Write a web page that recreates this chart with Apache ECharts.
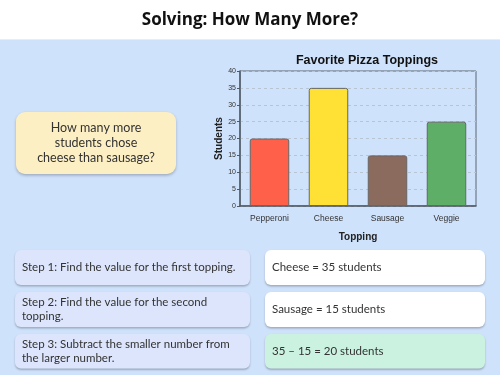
<!DOCTYPE html>
<html><head><meta charset="utf-8">
<script src="https://cdn.jsdelivr.net/npm/echarts@6/dist/echarts.min.js"></script>
<style>html,body{margin:0;padding:0;}#c{width:500px;height:375px;}</style>
</head><body><div id="c"></div>
<script>
var categories = ['Pepperoni', 'Cheese', 'Sausage', 'Veggie'];
var students = [20, 35, 15, 25];
var barColors = ['#ff6049', '#ffe135', '#8b6b5d', '#5fae68'];
var yTicks = [0, 5, 10, 15, 20, 25, 30, 35, 40];
var questionLines = ['How many more', 'students chose', 'cheese than sausage?'];
var stepTexts = [
  ['Step 1: Find the value for the first topping.'],
  ['Step 2: Find the value for the second', 'topping.'],
  ['Step 3: Subtract the smaller number from', 'the larger number.']
];
var answerTexts = ['Cheese = 35 students', 'Sausage = 15 students', '35 \u2013 15 = 20 students'];

var chart = echarts.init(document.getElementById('c'), null, {renderer: 'canvas'});
var bf = 'Lato, "Noto Sans", sans-serif';
var graphics = [];
graphics.push({type: 'rect', z: -10, shape: {x: 0, y: 0, width: 500, height: 39}, style: {fill: '#ffffff'}});
graphics.push({type: 'rect', z: -10, shape: {x: 0, y: 39, width: 500, height: 1}, style: {fill: '#e6edf5'}});
graphics.push({type: 'text', x: 250, y: 20, style: {text: 'Solving: How Many More?', font: 'bold 17px "Open Sans", Lato, sans-serif', fill: '#111', align: 'center', verticalAlign: 'middle'}});
// question box
graphics.push({type: 'rect', shape: {x: 16, y: 112, width: 160, height: 62, r: 9},
  style: {fill: '#fdefc4', shadowBlur: 3, shadowOffsetY: 1.5, shadowColor: 'rgba(0,0,0,0.25)'}});
questionLines.forEach(function (t, i) {
  graphics.push({type: 'text', x: 96, y: 128 + i * 15.2, style: {text: t, font: '12.5px ' + bf, fill: '#333', align: 'center', verticalAlign: 'middle'}});
});
var rows = [[250, 35], [292, 35], [334, 34.5]];
var ansFill = ['#ffffff', '#ffffff', '#cbf2e1'];
rows.forEach(function (r, i) {
  graphics.push({type: 'rect', shape: {x: 15, y: r[0], width: 235, height: r[1], r: 6},
    style: {fill: '#dce5fb', shadowBlur: 2, shadowOffsetY: 1.5, shadowColor: 'rgba(0,0,0,0.25)'}});
  graphics.push({type: 'rect', shape: {x: 265, y: r[0], width: 220, height: r[1], r: 6},
    style: {fill: ansFill[i], shadowBlur: 2, shadowOffsetY: 1.5, shadowColor: 'rgba(0,0,0,0.25)'}});
  var lines = stepTexts[i];
  var cy = r[0] + r[1] / 2;
  lines.forEach(function (t, j) {
    var y = lines.length === 1 ? cy : cy - 6.8 + j * 13.6;
    graphics.push({type: 'text', x: 22, y: y, style: {text: t, font: '11.5px ' + bf, fill: '#333', verticalAlign: 'middle'}});
  });
  graphics.push({type: 'text', x: 272, y: cy, style: {text: answerTexts[i], font: '11.5px ' + bf, fill: '#333', verticalAlign: 'middle'}});
});

chart.setOption({
  backgroundColor: '#cfe2fb',
  animation: false,
  title: {text: 'Favorite Pizza Toppings', left: 362, top: 49, textAlign: 'center',
    textStyle: {fontFamily: '"Liberation Sans", Arial, sans-serif', fontWeight: 'bold', fontSize: 12.5, color: '#111'}},
  grid: {left: 240, top: 71, width: 236, height: 135, show: true, borderColor: '#5a6470', borderWidth: 1},
  xAxis: {type: 'category', data: categories,
    name: 'Topping', nameLocation: 'middle', nameGap: 26,
    nameTextStyle: {fontFamily: '"Liberation Sans", Arial, sans-serif', fontWeight: 'bold', fontSize: 10, color: '#222'},
    axisLine: {lineStyle: {color: '#4f5a66', width: 1.5}},
    axisTick: {show: false},
    axisLabel: {fontFamily: '"Liberation Sans", Arial, sans-serif', fontSize: 8.5, color: '#333', margin: 8}},
  yAxis: {type: 'value', min: 0, max: 40, interval: 5,
    name: 'Students', nameLocation: 'middle', nameGap: 16, nameRotate: 90,
    nameTextStyle: {fontFamily: '"Liberation Sans", Arial, sans-serif', fontWeight: 'bold', fontSize: 10, color: '#222'},
    axisLine: {show: true, lineStyle: {color: '#4f5a66', width: 1.5}},
    axisTick: {show: true, length: 3, lineStyle: {color: '#4f5a66'}},
    splitLine: {lineStyle: {color: '#b9c4d2', type: [3, 3], width: 1}},
    axisLabel: {fontFamily: '"Liberation Sans", Arial, sans-serif', fontSize: 7, color: '#333', margin: 4,
      formatter: function (v) { return yTicks.indexOf(v) >= 0 ? String(v) : ''; }}},
  series: [{type: 'bar', barWidth: '67%',
    data: students.map(function (v, i) {
      return {value: v, itemStyle: {color: barColors[i], borderColor: '#666', borderWidth: 1, borderRadius: [2, 2, 0, 0]}};
    })}],
  graphic: graphics
});
</script></body></html>
